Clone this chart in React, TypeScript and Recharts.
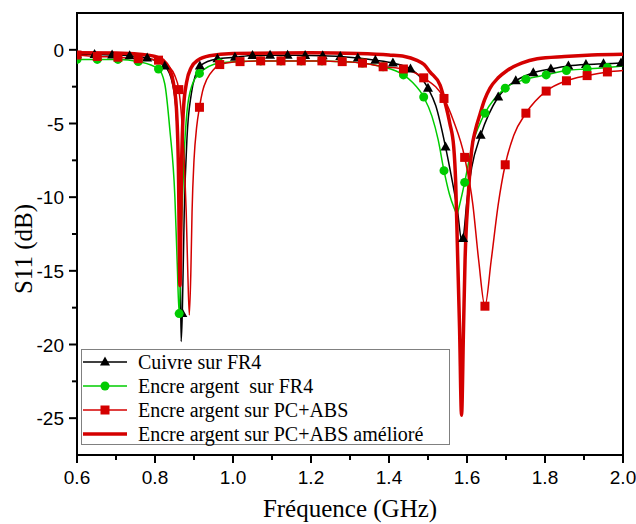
import { LineChart, Line, XAxis, YAxis, ReferenceArea } from 'recharts'

type Pt = [number, number]

// S11 values in dB against frequency in GHz
// *_MARK = points carrying a marker, *_LINE = extra points of the curve between markers

const CUIVRE_MARK: Pt[] = [
    [0.6, -0.3], [0.645, -0.32], [0.69, -0.35], [0.735, -0.4], [0.78, -0.55], [0.825, -1.1],
    [0.87, -17.9], [0.915, -1.1], [0.96, -0.6], [1.005, -0.5], [1.05, -0.38], [1.095, -0.36],
    [1.14, -0.36], [1.185, -0.38], [1.23, -0.4], [1.275, -0.45], [1.32, -0.55], [1.365, -0.7],
    [1.41, -0.9], [1.455, -1.3], [1.5, -2.6], [1.545, -6.6], [1.59, -12.8], [1.635, -5.8],
    [1.68, -3.2], [1.725, -2.1], [1.77, -1.55], [1.815, -1.3], [1.86, -1.1], [1.905, -1.0],
    [1.95, -0.95], [1.995, -0.9],
]
const CUIVRE_LINE: Pt[] = [
    [0.845, -2.3], [0.855, -4.5], [0.861, -9], [0.865, -15], [0.867, -19.8], [0.875, -11],
    [0.882, -6], [0.893, -3], [0.904, -1.7], [1.52, -3.8], [1.56, -8.6], [1.575, -10.8],
    [1.587, -13.0], [1.6, -10.2], [1.612, -8.0],
]

const FR4_MARK: Pt[] = [
    [0.6, -0.65], [0.652, -0.65], [0.705, -0.65], [0.757, -0.8], [0.809, -1.3], [0.862, -17.9],
    [0.914, -1.6], [0.966, -0.9], [1.018, -0.8], [1.071, -0.75], [1.123, -0.75], [1.175, -0.75],
    [1.228, -0.75], [1.28, -0.8], [1.332, -0.9], [1.385, -1.15], [1.437, -1.7], [1.489, -3.2],
    [1.541, -8.2], [1.594, -9.0], [1.646, -4.3], [1.698, -2.6], [1.751, -2.0], [1.803, -1.7],
    [1.855, -1.4], [1.908, -1.3], [1.96, -1.2],
]
const FR4_LINE: Pt[] = [
    [0.825, -2.3], [0.838, -5.4], [0.851, -10], [0.857, -14.5], [0.868, -12], [0.874, -7.5],
    [0.882, -4.2], [0.895, -2.4], [1.46, -2.2], [1.51, -4.5], [1.526, -6.1], [1.555, -9.8],
    [1.565, -10.6], [1.574, -11.1], [1.583, -10.3], [1.615, -6.3], [1.63, -5.2], [2.0, -1.1],
]

const ABS_MARK: Pt[] = [
    [0.6, -0.35], [0.652, -0.45], [0.705, -0.5], [0.757, -0.6], [0.809, -0.7], [0.861, -2.7],
    [0.914, -3.9], [0.966, -1.0], [1.018, -0.8], [1.071, -0.75], [1.123, -0.75], [1.175, -0.75],
    [1.228, -0.75], [1.28, -0.8], [1.332, -0.9], [1.385, -1.15], [1.437, -1.3], [1.489, -1.9],
    [1.541, -3.3], [1.594, -7.3], [1.646, -17.4], [1.698, -7.8], [1.751, -4.3], [1.803, -2.8],
    [1.855, -2.1], [1.908, -1.75], [1.96, -1.5],
]
const ABS_LINE: Pt[] = [
    [0.835, -1.1], [0.85, -1.7], [0.868, -4.5], [0.875, -7.5], [0.88, -11], [0.884, -15],
    [0.888, -18], [0.892, -15], [0.895, -11], [0.9, -7.5], [0.907, -5.2], [0.922, -2.8],
    [0.933, -2.0], [0.95, -1.35], [1.565, -4.8], [1.615, -10.5], [1.63, -14.3], [1.662, -14.3],
    [1.68, -10.5], [1.72, -5.8], [2.0, -1.4],
]

const AMELIORE_LINE: Pt[] = [
    [0.6, -0.2], [0.7, -0.22], [0.76, -0.3], [0.8, -0.45], [0.82, -0.7], [0.835, -1.2],
    [0.847, -2.2], [0.855, -4], [0.86, -8], [0.864, -16], [0.868, -8], [0.873, -4],
    [0.881, -2.2], [0.893, -1.2], [0.91, -0.7], [0.94, -0.4], [1.0, -0.25], [1.2, -0.2],
    [1.32, -0.25], [1.4, -0.35], [1.44, -0.45], [1.47, -0.7], [1.49, -1.0], [1.505, -1.5],
    [1.531, -2.4], [1.544, -3.6], [1.556, -5.0], [1.566, -6.6], [1.571, -9], [1.576, -14],
    [1.581, -19], [1.586, -24.8], [1.591, -19], [1.595, -14.3], [1.603, -10], [1.612, -6.8],
    [1.622, -5.4], [1.633, -4.4], [1.645, -3.4], [1.659, -2.6], [1.68, -1.9], [1.703, -1.4],
    [1.74, -0.9], [1.78, -0.6], [1.85, -0.45], [1.92, -0.35], [2.0, -0.3],
]

const X_TICKS = [0.6, 0.7, 0.8, 0.9, 1.0, 1.1, 1.2, 1.3, 1.4, 1.5, 1.6, 1.7, 1.8, 1.9, 2.0]
const Y_TICKS = [-25, -22.5, -20, -17.5, -15, -12.5, -10, -7.5, -5, -2.5, 0]

const LEGEND = [
    { label: 'Cuivre sur FR4', color: '#000000', shape: 'tri', width: 1.5 },
    { label: 'Encre argent  sur FR4', color: '#00cc00', shape: 'circle', width: 1.5 },
    { label: 'Encre argent sur PC+ABS', color: '#d40000', shape: 'square', width: 1.5 },
    { label: 'Encre argent sur PC+ABS amélioré', color: '#d40000', shape: 'none', width: 3.5 },
]

const build = (line: Pt[], mark: Pt[]) =>
    [
        ...line.map(([f, db]) => ({ f, db, m: false })),
        ...mark.map(([f, db]) => ({ f, db, m: true })),
    ].sort((a, b) => a.f - b.f)

const cuivreData = build(CUIVRE_LINE, CUIVRE_MARK)
const fr4Data = build(FR4_LINE, FR4_MARK)
const absData = build(ABS_LINE, ABS_MARK)
const amelioreData = build(AMELIORE_LINE, [])

function Marker({ shape, x, y, color }: { shape: string; x: number; y: number; color: string }) {
    if (shape === 'tri') {
        return <polygon points={`${x},${y - 5.5} ${x + 5},${y + 3.5} ${x - 5},${y + 3.5}`} fill={color} />
    }
    if (shape === 'circle') return <circle cx={x} cy={y} r={4.5} fill={color} />
    if (shape === 'square') return <rect x={x - 4.5} y={y - 4.5} width={9} height={9} fill={color} />
    return null
}

const markDot = (shape: string, color: string) => (p: any) => {
    const key = `${shape}-${p.index}`
    if (!p.payload?.m) return <g key={key} />
    return (
        <g key={key}>
            <Marker shape={shape} x={p.cx} y={p.cy} color={color} />
        </g>
    )
}

const tickFont = '"Liberation Sans", Arial, sans-serif'
const serif = '"Liberation Serif", "Times New Roman", serif'

function XTick(p: any) {
    const v: number = p.payload.value
    const major = Math.round(v * 10) % 2 === 0
    return (
        <g>
            <line x1={p.x} x2={p.x} y1={p.y} y2={p.y + (major ? 8 : 5)} stroke="#000" strokeWidth={2} />
            {major && (
                <text x={p.x} y={p.y + 29} textAnchor="middle" fontSize={19} fontFamily={tickFont} fill="#000">
                    {v.toFixed(1)}
                </text>
            )}
        </g>
    )
}

function YTick(p: any) {
    const v: number = p.payload.value
    const major = v % 5 === 0
    return (
        <g>
            <line x1={p.x - (major ? 8 : 5)} x2={p.x} y1={p.y} y2={p.y} stroke="#000" strokeWidth={2} />
            {major && (
                <text x={p.x - 13} y={p.y + 7} textAnchor="end" fontSize={19} fontFamily={tickFont} fill="#000">
                    {v}
                </text>
            )}
        </g>
    )
}

export default function App() {
    return (
        <div style={{ position: 'absolute', left: 0, top: 0, width: 636, height: 524, background: '#fff' }}>
            <LineChart width={636} height={524} margin={{ top: 13, right: 13, left: 0, bottom: 0 }}>
                <XAxis
                    dataKey="f"
                    type="number"
                    domain={[0.6, 2.0]}
                    ticks={X_TICKS}
                    interval={0}
                    allowDataOverflow
                    height={69}
                    tickSize={0}
                    tickMargin={0}
                    tickLine={false}
                    axisLine={{ stroke: '#000', strokeWidth: 2 }}
                    tick={<XTick />}
                />
                <YAxis
                    type="number"
                    domain={[-27.5, 2.5]}
                    ticks={Y_TICKS}
                    interval={0}
                    allowDataOverflow
                    width={77}
                    tickSize={0}
                    tickMargin={0}
                    tickLine={false}
                    axisLine={{ stroke: '#000', strokeWidth: 2 }}
                    tick={<YTick />}
                />
                <ReferenceArea x1={0.6} x2={2.0} y1={-27.5} y2={2.5} fill="none" fillOpacity={0} stroke="#000" strokeWidth={2} />
                <Line
                    data={cuivreData}
                    dataKey="db"
                    type="monotone"
                    stroke="#000000"
                    strokeWidth={1.5}
                    dot={markDot('tri', '#000000')}
                    activeDot={false}
                    isAnimationActive={false}
                />
                <Line
                    data={fr4Data}
                    dataKey="db"
                    type="monotone"
                    stroke="#00cc00"
                    strokeWidth={1.5}
                    dot={markDot('circle', '#00cc00')}
                    activeDot={false}
                    isAnimationActive={false}
                />
                <Line
                    data={absData}
                    dataKey="db"
                    type="monotone"
                    stroke="#d40000"
                    strokeWidth={1.5}
                    dot={markDot('square', '#d40000')}
                    activeDot={false}
                    isAnimationActive={false}
                />
                <Line
                    data={amelioreData}
                    dataKey="db"
                    type="monotone"
                    stroke="#d40000"
                    strokeWidth={3.5}
                    dot={false}
                    activeDot={false}
                    isAnimationActive={false}
                />
            </LineChart>

            <svg width={636} height={524} style={{ position: 'absolute', left: 0, top: 0, pointerEvents: 'none' }}>
                <text
                    x={23}
                    y={249}
                    transform="rotate(-90 23 249)"
                    textAnchor="middle"
                    dominantBaseline="central"
                    fontSize={25}
                    fontFamily={serif}
                    fill="#000"
                >
                    S11 (dB)
                </text>
                <text x={350} y={517} textAnchor="middle" fontSize={25} fontFamily={serif} fill="#000">
                    Fréquence (GHz)
                </text>
            </svg>

            <div
                style={{
                    position: 'absolute',
                    left: 81,
                    top: 349,
                    width: 369,
                    height: 96,
                    boxSizing: 'border-box',
                    border: '1px solid #808080',
                    background: '#fff',
                }}
            >
                {LEGEND.map((item) => (
                    <div key={item.label} style={{ display: 'flex', alignItems: 'center', height: 24 }}>
                        <svg width={45} height={24} style={{ marginLeft: 1, flexShrink: 0 }}>
                            <line x1={0} x2={44} y1={12} y2={12} stroke={item.color} strokeWidth={item.width} />
                            <Marker shape={item.shape} x={22} y={12} color={item.color} />
                        </svg>
                        <span
                            style={{
                                marginLeft: 10,
                                fontFamily: serif,
                                fontSize: 20,
                                whiteSpace: 'pre',
                                color: '#000',
                                lineHeight: '24px',
                            }}
                        >
                            {item.label}
                        </span>
                    </div>
                ))}
            </div>
        </div>
    )
}
